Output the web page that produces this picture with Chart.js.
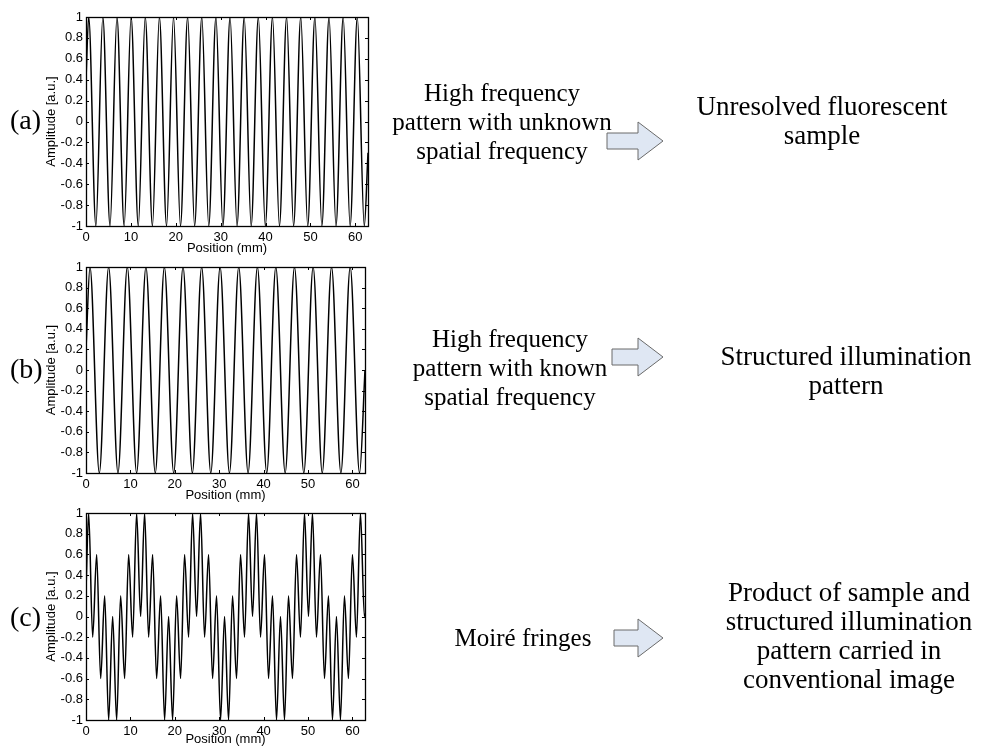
<!DOCTYPE html>
<html>
<head>
<meta charset="utf-8">
<script src="https://cdn.jsdelivr.net/npm/chart.js@4.4.0/dist/chart.umd.min.js"></script>
<style>
  html, body { margin: 0; padding: 0; background: #fff; }
  body { width: 987px; height: 747px; position: relative; overflow: hidden; }
  canvas { position: absolute; left: 0; }
  .lbl { position: absolute; font-family: "Liberation Serif", "Times New Roman", serif; color: #000; white-space: nowrap; }
  .panel { font-size: 28px; left: 10px; }
  .txt { font-size: 25px; line-height: 29px; text-align: center; width: 360px; }
  .big { font-size: 27px; }
  svg { position: absolute; left: 0; top: 0; }
</style>
</head>
<body>
<canvas id="chartA" width="380" height="256" style="top:0px"></canvas>
<canvas id="chartB" width="380" height="253" style="top:250px"></canvas>
<canvas id="chartC" width="380" height="247" style="top:500px"></canvas>

<div class="lbl panel" style="top:104px">(a)</div>
<div class="lbl panel" style="top:353px">(b)</div>
<div class="lbl panel" style="top:601px">(c)</div>

<div class="lbl txt" style="left:322px; top:78px">High frequency<br>pattern with unknown<br>spatial frequency</div>
<div class="lbl txt big" style="left:642px; top:92px">Unresolved fluorescent<br>sample</div>
<div class="lbl txt" style="left:330px; top:324px">High frequency<br>pattern with known<br>spatial frequency</div>
<div class="lbl txt big" style="left:666px; top:342px">Structured illumination<br>pattern</div>
<div class="lbl txt" style="left:343px; top:623px">Moiré fringes</div>
<div class="lbl txt big" style="left:669px; top:578px">Product of sample and<br>structured illumination<br>pattern carried in<br>conventional image</div>

<svg width="987" height="747" id="arrows"></svg>

<script>
// (a) unknown high frequency pattern: local maxima / minima
const positionA = [0, 0.6, 2.2, 3.75, 5.35, 6.9, 8.5, 10.05, 11.65, 13.2, 14.8,
  16.35, 17.95, 19.5, 21.05, 22.65, 24.2, 25.8, 27.35, 28.95, 30.5,
  32.1, 33.65, 35.25, 36.8, 38.4, 39.95, 41.55, 43.1, 44.7, 46.25,
  47.85, 49.4, 51.0, 52.55, 54.15, 55.7, 57.3, 58.85, 60.45, 62.0, 62.83];
const amplitudeA = [0.4, 1, -1, 1, -1, 1, -1, 1, -1, 1, -1,
  1, -1, 1, -1, 1, -1, 1, -1, 1, -1,
  1, -1, 1, -1, 1, -1, 1, -1, 1, -1,
  1, -1, 1, -1, 1, -1, 1, -1, 1, -1, -0.3];

// (b) known (structured illumination) pattern
const positionB = [0, 0.9, 3.0, 5.1, 7.2, 9.3, 11.4, 13.5, 15.6, 17.65, 19.75,
  21.85, 23.95, 26.05, 28.1, 30.2, 32.3, 34.4, 36.5, 38.6, 40.7,
  42.75, 44.85, 46.95, 49.05, 51.15, 53.2, 55.3, 57.4, 59.5, 61.6, 62.83];
const amplitudeB = [0.2, 1, -1, 1, -1, 1, -1, 1, -1, 1, -1,
  1, -1, 1, -1, 1, -1, 1, -1, 1, -1,
  1, -1, 1, -1, 1, -1, 1, -1, 1, -1, 0.0];

// (c) moire fringes (product)
const positionC = [0, 0.6, 1.5, 2.4, 3.3, 4.2, 5.1, 6.0, 6.9, 7.8, 8.7, 9.6, 10.5, 11.4, 12.3,
  13.2, 14.1, 15.0, 15.9, 16.8, 17.7, 18.6, 19.5, 20.4, 21.3, 22.2, 23.1, 24.0, 24.9,
  25.8, 26.7, 27.6, 28.5, 29.4, 30.3, 31.2, 32.1, 33.0, 33.9, 34.8, 35.7, 36.6, 37.5,
  38.4, 39.3, 40.2, 41.1, 42.0, 42.9, 43.8, 44.7, 45.6, 46.5, 47.4, 48.3, 49.2, 50.1,
  51.0, 51.9, 52.8, 53.7, 54.6, 55.5, 56.4, 57.3, 58.2, 59.1, 60.0, 60.9, 61.8, 62.7, 62.83];
const amplitudeC = [0.25, 1, -0.2, 0.6, -0.6, 0.2, -1, 0, -1, 0.2, -0.6, 0.6, -0.2, 1, 0,
  1, -0.2, 0.6, -0.6, 0.2, -1, 0, -1, 0.2, -0.6, 0.6, -0.2, 1, 0,
  1, -0.2, 0.6, -0.6, 0.2, -1, 0, -1, 0.2, -0.6, 0.6, -0.2, 1, 0,
  1, -0.2, 0.6, -0.6, 0.2, -1, 0, -1, 0.2, -0.6, 0.6, -0.2, 1, 0,
  1, -0.2, 0.6, -0.6, 0.2, -1, 0, -1, 0.2, -0.6, 0.6, -0.2, 1, 0, 0.03];

const X_MAX = 62.83;
const axisFont = { family: "'Liberation Sans', Arial, sans-serif", size: 13 };

// box around the axes + inward ticks on all four sides (matlab look)
const matlabFrame = {
  id: 'matlabFrame',
  afterDraw(chart) {
    const { ctx, chartArea: a, scales: { x, y } } = chart;
    const len = 3;
    ctx.save();
    ctx.strokeStyle = '#000';
    ctx.lineWidth = 1;
    ctx.beginPath();
    x.ticks.forEach(t => {
      const px = Math.round(x.getPixelForValue(t.value)) + 0.5;
      ctx.moveTo(px, a.bottom); ctx.lineTo(px, a.bottom - len);
      ctx.moveTo(px, a.top); ctx.lineTo(px, a.top + len);
    });
    y.ticks.forEach(t => {
      const py = Math.round(y.getPixelForValue(t.value)) + 0.5;
      ctx.moveTo(a.left, py); ctx.lineTo(a.left + len, py);
      ctx.moveTo(a.right, py); ctx.lineTo(a.right - len, py);
    });
    ctx.stroke();
    ctx.lineWidth = 1.3;
    ctx.strokeRect(Math.round(a.left) + 0.5, Math.round(a.top) + 0.5,
      Math.round(a.right - a.left), Math.round(a.bottom - a.top));
    ctx.restore();
  }
};

// matlab style labels: 1, 0.8 ... -1 (no trailing .0)
const shortLabel = v => String(Math.round(v * 10) / 10);

function drawPlot(id, xs, ys, padTop, padRight, xAxisHeight) {
  const points = xs.map((v, i) => ({ x: v, y: ys[i] }));
  return new Chart(document.getElementById(id), {
    type: 'line',
    data: {
      datasets: [{
        data: points,
        borderColor: '#000',
        borderWidth: 1.5,
        pointRadius: 0,
        fill: false,
        cubicInterpolationMode: 'monotone'
      }]
    },
    options: {
      responsive: false,
      animation: false,
      events: [],
      layout: { padding: { left: 44, top: padTop, right: padRight, bottom: 0 } },
      plugins: { legend: { display: false }, tooltip: { enabled: false } },
      scales: {
        x: {
          type: 'linear', min: 0, max: X_MAX,
          ticks: { stepSize: 10, includeBounds: false, padding: 4, font: axisFont, color: '#000', maxRotation: 0, autoSkip: false, callback: shortLabel },
          grid: { display: false, drawTicks: false },
          border: { display: false },
          title: { display: true, text: 'Position (mm)', font: axisFont, color: '#000', padding: 0 },
          afterFit(s) { s.height = xAxisHeight; }
        },
        y: {
          type: 'linear', min: -1, max: 1,
          ticks: { stepSize: 0.2, includeBounds: false, padding: 3, font: axisFont, color: '#000', autoSkip: false, callback: shortLabel },
          grid: { display: false, drawTicks: false },
          border: { display: false },
          title: { display: true, text: 'Amplitude [a.u.]', font: axisFont, color: '#000', padding: 0 },
          afterFit(s) { s.width = 42; }
        }
      }
    },
    plugins: [matlabFrame]
  });
}

drawPlot('chartA', positionA, amplitudeA, 17, 12, 30);
drawPlot('chartB', positionB, amplitudeB, 17, 15, 30);
drawPlot('chartC', positionC, amplitudeC, 13, 15, 27);

// block arrows between the text columns
const arrowRows = [[607, 141], [612, 357], [614, 638]];
const svg = document.getElementById('arrows');
arrowRows.forEach(([x0, cy]) => {
  const p = [[x0, cy - 8], [638, cy - 8], [638, cy - 19], [663, cy], [638, cy + 19], [638, cy + 8], [x0, cy + 8]];
  const poly = document.createElementNS('http://www.w3.org/2000/svg', 'polygon');
  poly.setAttribute('points', p.map(q => q.join(',')).join(' '));
  poly.setAttribute('fill', '#dfe7f3');
  poly.setAttribute('stroke', '#6a6a6a');
  poly.setAttribute('stroke-width', '1');
  svg.appendChild(poly);
});
</script>
</body>
</html>
